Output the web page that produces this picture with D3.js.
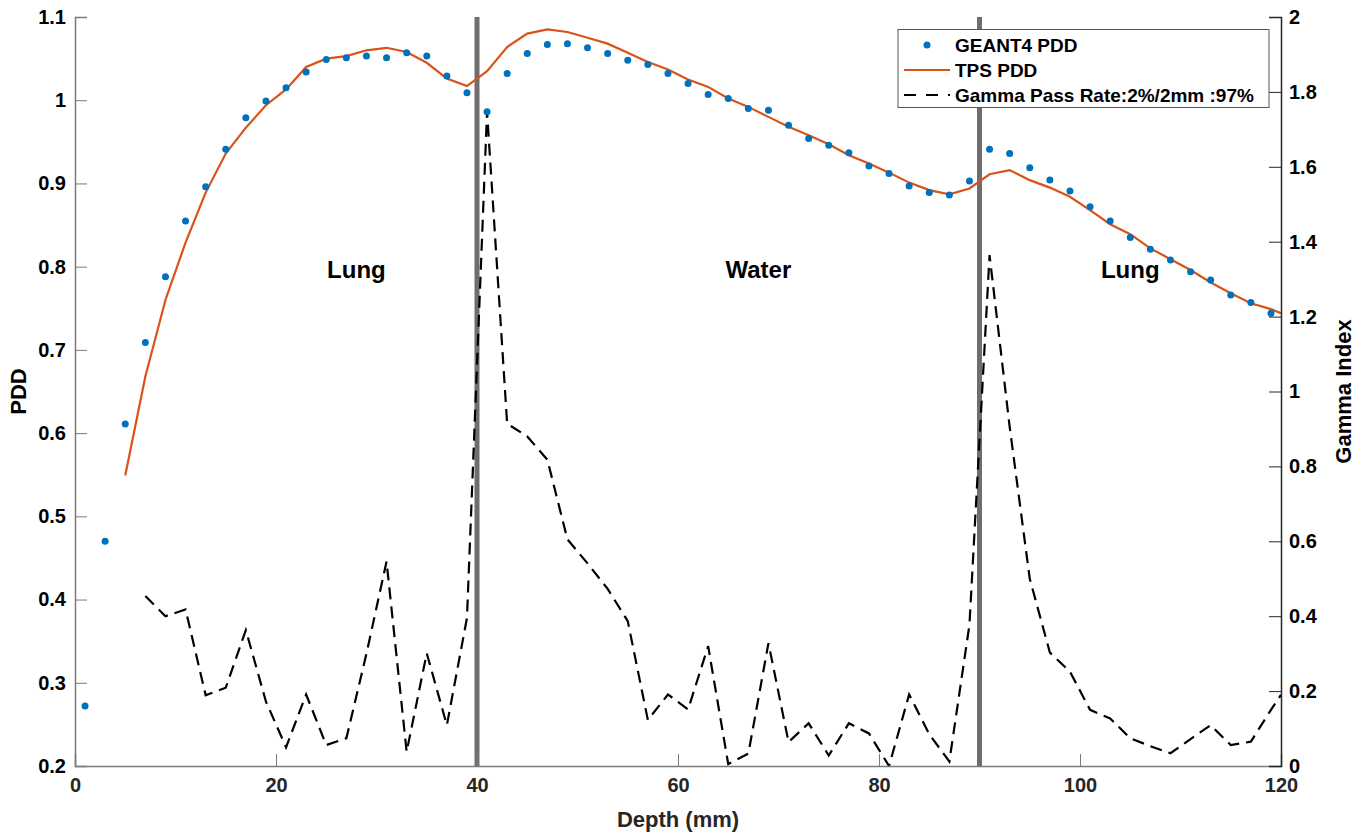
<!DOCTYPE html>
<html><head><meta charset="utf-8">
<script src="https://cdn.jsdelivr.net/npm/d3@7"></script>
<style>
body{margin:0;background:#fff;}
text{font-family:"Liberation Sans",Arial,Helvetica,sans-serif;font-weight:bold;}
</style></head>
<body><svg id="chart" width="1363" height="833"></svg>
<script>
// ---- data ----
const geantDepth = [1,3,5,7,9,11,13,15,17,19,21,23,25,27,29,31,33,35,37,39,41,43,45,47,49,51,53,55,57,59,61,63,65,67,69,71,73,75,77,79,81,83,85,87,89,91,93,95,97,99,101,103,105,107,109,111,113,115,117,119];
const geantPDD = [0.272,0.470,0.611,0.709,0.788,0.855,0.896,0.941,0.979,0.999,1.015,1.034,1.049,1.051,1.053,1.051,1.057,1.053,1.029,1.009,0.986,1.032,1.056,1.067,1.068,1.063,1.056,1.048,1.043,1.032,1.020,1.007,1.002,0.990,0.988,0.970,0.954,0.946,0.937,0.921,0.912,0.897,0.889,0.886,0.903,0.941,0.936,0.919,0.904,0.891,0.872,0.855,0.835,0.821,0.808,0.794,0.784,0.766,0.757,0.744];
const tpsDepth = [5,7,9,11,13,15,17,19,21,23,25,27,29,31,33,35,37,39,41,43,45,47,49,51,53,55,57,59,61,63,65,67,69,71,73,75,77,79,81,83,85,87,89,91,93,95,97,99,101,103,105,107,109,111,113,115,117,119,120];
const tpsPDD = [0.549,0.668,0.760,0.829,0.889,0.936,0.967,0.994,1.013,1.040,1.050,1.053,1.060,1.063,1.058,1.045,1.026,1.017,1.035,1.064,1.080,1.085,1.082,1.075,1.068,1.057,1.046,1.037,1.025,1.016,1.002,0.992,0.980,0.968,0.958,0.947,0.934,0.924,0.913,0.901,0.892,0.887,0.894,0.911,0.916,0.904,0.895,0.884,0.868,0.851,0.839,0.822,0.809,0.796,0.781,0.768,0.756,0.749,0.744];
const gammaDepth = [7,9,11,13,15,17,19,21,23,25,27,29,31,33,35,37,39,41,43,45,47,49,51,53,55,57,59,61,63,65,67,69,71,73,75,77,79,81,83,85,87,89,91,93,95,97,99,101,103,105,107,109,111,113,115,117,119,120];
const gammaIndex = [0.454,0.400,0.418,0.189,0.209,0.363,0.172,0.050,0.191,0.056,0.074,0.300,0.546,0.038,0.301,0.109,0.395,1.747,0.914,0.880,0.818,0.605,0.541,0.473,0.387,0.123,0.191,0.151,0.320,0.005,0.033,0.328,0.064,0.114,0.028,0.114,0.087,0.000,0.191,0.085,0.012,0.377,1.364,0.906,0.500,0.303,0.252,0.150,0.127,0.074,0.053,0.034,0.072,0.109,0.056,0.065,0.150,0.190];
const boundaries = [40, 90];
const regionLabels = [{x:28, t:"Lung"}, {x:68, t:"Water"}, {x:105, t:"Lung"}];
const xTicks = [0,20,40,60,80,100,120];
const yLeftTicks = [0.2,0.3,0.4,0.5,0.6,0.7,0.8,0.9,1,1.1];
const yRightTicks = [0,0.2,0.4,0.6,0.8,1,1.2,1.4,1.6,1.8,2];
const legendItems = ["GEANT4 PDD","TPS PDD","Gamma Pass Rate:2%/2mm :97%"];

// ---- layout ----
const L = 75, R = 1281, T = 17, B = 766;
const svg = d3.select("#chart");
const x = d3.scaleLinear().domain([0,120]).range([L,R]);
const yL = d3.scaleLinear().domain([0.2,1.1]).range([B,T]);
const yR = d3.scaleLinear().domain([0,2]).range([B,T]);

svg.append("defs").append("clipPath").attr("id","clip")
  .append("rect").attr("x",L).attr("y",T).attr("width",R-L).attr("height",B-T);

const plot = svg.append("g").attr("clip-path","url(#clip)");

// boundaries
plot.selectAll("line.bd").data(boundaries).enter().append("line")
  .attr("x1",d=>x(d)).attr("x2",d=>x(d)).attr("y1",yL(1.1)).attr("y2",yL(0.2))
  .attr("stroke","#6e6e6e").attr("stroke-width",5);

// gamma dashed
plot.append("path").datum(gammaDepth.map((d,i)=>[d,gammaIndex[i]]))
  .attr("d", d3.line().x(d=>x(d[0])).y(d=>yR(d[1])))
  .attr("fill","none").attr("stroke","#000").attr("stroke-width",2.2)
  .attr("stroke-dasharray","12,7");

// TPS line
plot.append("path").datum(tpsDepth.map((d,i)=>[d,tpsPDD[i]]))
  .attr("d", d3.line().x(d=>x(d[0])).y(d=>yL(d[1])))
  .attr("fill","none").attr("stroke","#D95319").attr("stroke-width",2.2);

// GEANT4 dots
plot.selectAll("circle.g").data(geantDepth.map((d,i)=>[d,geantPDD[i]])).enter().append("circle")
  .attr("cx",d=>x(d[0])).attr("cy",d=>yL(d[1])).attr("r",3.5).attr("fill","#0072BD");

// region labels
svg.selectAll("text.reg").data(regionLabels).enter().append("text")
  .attr("x",d=>x(d.x)).attr("y",278).attr("text-anchor","middle")
  .attr("font-size",24).attr("fill","#000").text(d=>d.t);

// axes
const axColL = "#7a7a7a", axColR = "#262626";
const fmt = d=>String(+(+d).toFixed(1));
const gx = svg.append("g").attr("transform",`translate(0,${B})`)
  .call(d3.axisBottom(x).tickValues(xTicks).tickSize(-12).tickPadding(12).tickFormat(d3.format("d")));
gx.select(".domain").attr("stroke",axColL).attr("stroke-width",1.5);
gx.selectAll(".tick line").attr("stroke",axColL);
gx.selectAll(".tick text").attr("font-size",20).attr("fill","#262626").attr("font-family","Liberation Sans, Arial").attr("font-weight","bold");

const gl = svg.append("g").attr("transform",`translate(${L},0)`)
  .call(d3.axisLeft(yL).tickValues(yLeftTicks).tickSize(-12).tickPadding(9).tickFormat(fmt));
gl.select(".domain").attr("stroke",axColL).attr("stroke-width",1.5);
gl.selectAll(".tick line").attr("stroke",axColL);
gl.selectAll(".tick text").attr("font-size",20).attr("fill","#000").attr("font-family","Liberation Sans, Arial").attr("font-weight","bold");

const gr = svg.append("g").attr("transform",`translate(${R},0)`)
  .call(d3.axisRight(yR).tickValues(yRightTicks).tickSize(-12).tickPadding(8).tickFormat(fmt));
gr.select(".domain").attr("stroke",axColR).attr("stroke-width",1.5);
gr.selectAll(".tick line").attr("stroke",axColR);
gr.selectAll(".tick text").attr("font-size",20).attr("fill","#000").attr("font-family","Liberation Sans, Arial").attr("font-weight","bold");

// axis titles
svg.append("text").attr("x",(L+R)/2).attr("y",827).attr("text-anchor","middle")
  .attr("font-size",22).attr("fill","#262626").text("Depth (mm)");
svg.append("text").attr("transform",`translate(26,${(T+B)/2}) rotate(-90)`).attr("text-anchor","middle")
  .attr("font-size",22).attr("fill","#000").text("PDD");
svg.append("text").attr("transform",`translate(1351,${(T+B)/2}) rotate(-90)`).attr("text-anchor","middle")
  .attr("font-size",22).attr("fill","#000").text("Gamma Index");

// legend
const lg = svg.append("g");
lg.append("rect").attr("x",898).attr("y",29.5).attr("width",371).attr("height",78)
  .attr("fill","#fff").attr("stroke","#555").attr("stroke-width",1);
const ly = [45,70,95];
lg.append("circle").attr("cx",927).attr("cy",ly[0]).attr("r",3.5).attr("fill","#0072BD");
lg.append("line").attr("x1",904).attr("x2",950).attr("y1",ly[1]).attr("y2",ly[1]).attr("stroke","#D95319").attr("stroke-width",2.2);
lg.append("line").attr("x1",904).attr("x2",950).attr("y1",ly[2]).attr("y2",ly[2]).attr("stroke","#000").attr("stroke-width",2.2).attr("stroke-dasharray","12,10");
lg.selectAll("text.li").data(legendItems).enter().append("text")
  .attr("x",955).attr("y",(d,i)=>ly[i]+7).attr("font-size",19).attr("fill","#000").text(d=>d);
</script></body></html>
